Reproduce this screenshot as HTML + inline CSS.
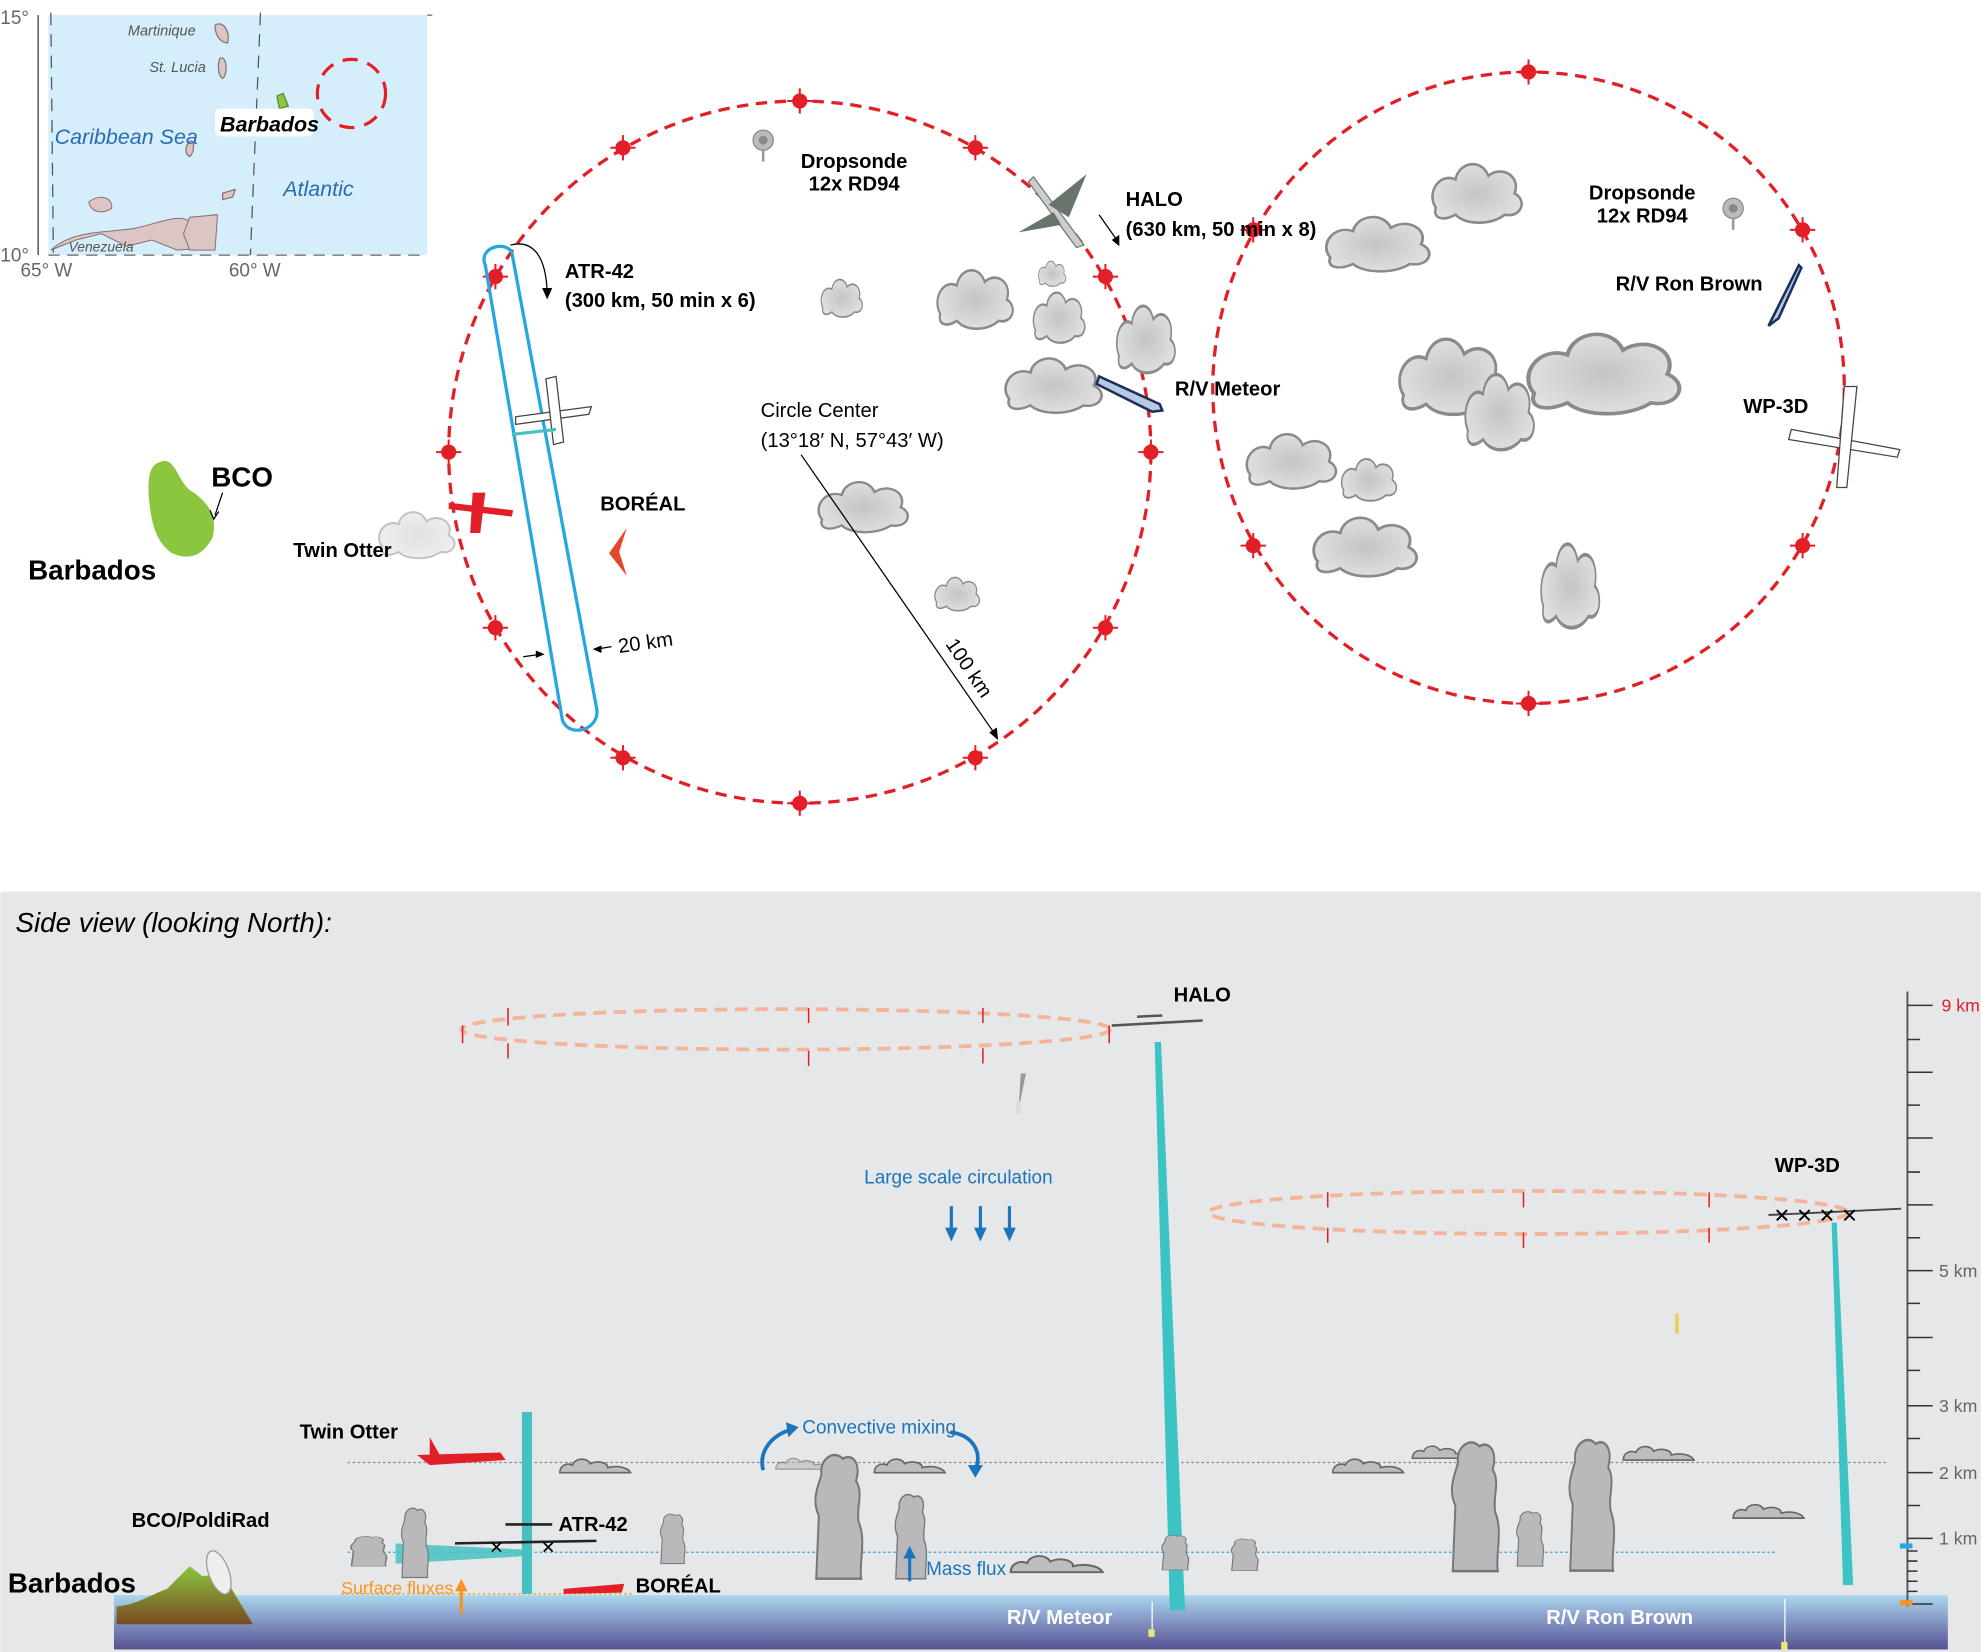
<!DOCTYPE html>
<html><head><meta charset="utf-8"><style>
html,body{margin:0;padding:0;background:#fff}
svg{display:block}
text{font-family:"Liberation Sans",sans-serif}
</style></head><body>
<svg width="1981" height="1652" viewBox="0 0 1568 1308" xmlns="http://www.w3.org/2000/svg">
<defs>
<radialGradient id="cg" cx="50%" cy="50%" r="60%"><stop offset="0" stop-color="#c4c4c6"/><stop offset="1" stop-color="#e4e4e6"/></radialGradient>
<linearGradient id="sea" x1="0" y1="0" x2="0" y2="1"><stop offset="0" stop-color="#a9d8ee"/><stop offset="0.35" stop-color="#8fa6d0"/><stop offset="1" stop-color="#555192"/></linearGradient>
<linearGradient id="isl" x1="0" y1="0" x2="0" y2="1"><stop offset="0" stop-color="#8cc63f"/><stop offset="1" stop-color="#7a4a22"/></linearGradient>
<g id="cl"><path d="M2,26 C-4,18 4,6 14,10 C16,0 30,-2 34,8 C42,2 54,8 50,18 C58,22 54,32 44,30 C36,36 20,36 14,30 C6,34 0,32 2,26 Z" fill="url(#cg)" stroke="#8a8a8a" stroke-width="1.5"/></g>
<g id="fc"><path d="M0,14 C0,8 6,6 10,8 C12,2 22,2 24,7 C30,4 38,6 38,10 C46,8 54,10 56,14 Z" fill="#bdbdbf" stroke="#666" stroke-width="1.3"/></g>
<g id="tw"><path d="M0,80 L2,40 C-4,30 2,20 4,14 C2,4 14,-2 20,4 C28,0 34,8 30,18 C36,26 30,34 32,44 C38,56 32,70 34,80 Z" fill="#b9b9bb" stroke="#777" stroke-width="1.5"/></g>
<g id="mk"><circle r="6" fill="#e21e26"/><path d="M-10,0H10M0,-10V10" stroke="#e21e26" stroke-width="1.6"/></g>
</defs>

<!-- inset map -->
<rect x="38" y="12" width="300" height="190" fill="#d5eefb"/>
<path d="M30,12V202" stroke="#555" stroke-width="1.2"/>
<path d="M38,202 H338" stroke="#666" stroke-dasharray="9,6"/>
<path d="M338,12 H342" stroke="#666"/>
<path d="M40,10 L42,200 M206,10 L198,202" stroke="#555" stroke-dasharray="10,7"/>
<path d="M40,198 C60,180 90,185 110,180 C130,175 140,170 150,175 L170,170 L168,196 L140,198 L120,190 L100,195 L80,185 L60,190Z" fill="#dbc5c5" stroke="#8a7070" stroke-width="0.8"/>
<path d="M145,185 L150,172 L172,170 L170,198 L150,198Z" fill="#dbc5c5" stroke="#8a7070" stroke-width="0.8"/>
<path d="M70,160 C80,152 90,158 88,165 C80,170 72,168 70,160Z" fill="#dbc5c5" stroke="#8a7070" stroke-width="0.8"/>
<path d="M170,20 C176,16 182,24 180,34 C176,34 170,30 170,20Z" fill="#dbc5c5" stroke="#8a7070"/>
<path d="M174,46 C180,44 180,60 176,62 C172,60 172,50 174,46Z" fill="#dbc5c5" stroke="#8a7070"/>
<path d="M150,112 C154,110 154,120 150,124 C146,122 146,116 150,112Z" fill="#dbc5c5" stroke="#8a7070"/>
<path d="M176,153 L186,150 L184,156 L176,158Z" fill="#dbc5c5" stroke="#8a7070"/>
<path d="M219,76 L224,74 L228,84 L221,86Z" fill="#8cc63f" stroke="#5a8a2a"/>
<circle cx="278" cy="74" r="27" fill="none" stroke="#e21e26" stroke-width="2.5" stroke-dasharray="12,8"/>
<text x="101" y="28" font-size="11.5" font-style="italic" fill="#555">Martinique</text>
<text x="118" y="57" font-size="11.5" font-style="italic" fill="#555">St. Lucia</text>
<rect x="170" y="86" width="78" height="22" rx="4" fill="#fff"/>
<text x="174" y="104" font-size="17" font-weight="bold" font-style="italic" fill="#000">Barbados</text>
<text x="43" y="114" font-size="17" font-style="italic" fill="#2a6cb0">Caribbean Sea</text>
<text x="224" y="155" font-size="17" font-style="italic" fill="#2a6cb0">Atlantic</text>
<text x="54" y="199" font-size="11" font-style="italic" fill="#555">Venezuela</text>
<text x="0" y="19" font-size="15" fill="#666">15°</text>
<text x="0" y="207" font-size="15" fill="#666">10°</text>
<text x="16" y="219" font-size="15" fill="#666">65° W</text>
<text x="181" y="219" font-size="15" fill="#666">60° W</text>

<!-- Barbados big -->
<path d="M126,366 C138,360 140,380 150,388 C166,398 172,410 168,426 C160,440 150,444 136,438 C124,430 120,416 118,398 C116,380 118,368 126,366Z" fill="#8cc63f"/>
<text x="167" y="385" font-size="22" font-weight="bold">BCO</text>
<path d="M176,390 L170,408" stroke="#000"/><path d="M166,404 L169,411 L173,405" fill="none" stroke="#000"/>
<text x="22" y="459" font-size="22" font-weight="bold">Barbados</text>

<!-- circles -->
<circle cx="633" cy="358" r="278" fill="none" stroke="#e21e26" stroke-width="2.6" stroke-dasharray="9,6"/>
<circle cx="1210" cy="307" r="250" fill="none" stroke="#e21e26" stroke-width="2.6" stroke-dasharray="9,6"/>
<use href="#mk" x="633" y="80"/><use href="#mk" x="772" y="117"/><use href="#mk" x="875" y="219"/><use href="#mk" x="911" y="358"/><use href="#mk" x="875" y="497"/><use href="#mk" x="772" y="600"/><use href="#mk" x="633" y="636"/><use href="#mk" x="493" y="600"/><use href="#mk" x="392" y="497"/><use href="#mk" x="355" y="358"/><use href="#mk" x="392" y="219"/><use href="#mk" x="493" y="117"/>
<use href="#mk" x="1210" y="57"/><use href="#mk" x="1427" y="182"/><use href="#mk" x="992" y="182"/><use href="#mk" x="1427" y="432"/><use href="#mk" x="992" y="432"/><use href="#mk" x="1210" y="557"/>

<!-- ATR track -->
<path d="M384,210 C378,196 400,190 405,200 L472,560 C476,578 450,585 445,570 Z" fill="none" stroke="#27a6e0" stroke-width="2.6"/>
<path d="M404,194 C420,190 432,200 433,232" fill="none" stroke="#000"/><path d="M429,228 L433,237 L437,228" fill="#000"/>
<path d="M414,520 L428,518" stroke="#000"/><path d="M424,515 L431,518 L424,521Z" fill="#000"/>
<path d="M484,512 L472,514" stroke="#000"/><path d="M476,511 L469,514 L476,517Z" fill="#000"/>
<text x="490" y="517" font-size="16" transform="rotate(-8 490 517)">20 km</text>
<path d="M408,330 L468,322 L466,328 L408,336Z" fill="#fff" stroke="#444"/>
<path d="M432,300 L440,298 L446,350 L438,352Z" fill="#fff" stroke="#444"/>
<path d="M405,344 L440,340" stroke="#45c1c1" stroke-width="2.5"/>
<text x="447" y="220" font-size="16" font-weight="bold">ATR-42</text>
<text x="447" y="243" font-size="16" font-weight="bold">(300 km, 50 min x 6)</text>
<!-- Twin otter -->
<use href="#cl" transform="translate(300,404) scale(1.1)" opacity="0.5"/>
<path d="M355,398 L406,404 L405,409 L355,403Z" fill="#e21e26"/><path d="M374,390 L384,390 L380,422 L372,422Z" fill="#e21e26"/>
<text x="232" y="441" font-size="16" font-weight="bold">Twin Otter</text>
<path d="M496,418 L482,438 L496,456 L490,437Z" fill="#e8462a"/>
<text x="475" y="404" font-size="16" font-weight="bold">BORÉAL</text>
<!-- dropsonde -->
<circle cx="604" cy="111" r="8" fill="#bbb" stroke="#888"/><circle cx="604" cy="111" r="3.5" fill="#888"/><path d="M604,119 V128" stroke="#999" stroke-width="2"/>
<text x="676" y="133" font-size="16" font-weight="bold" text-anchor="middle">Dropsonde</text>
<text x="676" y="151" font-size="16" font-weight="bold" text-anchor="middle">12x RD94</text>
<circle cx="1372" cy="165" r="8" fill="#bbb" stroke="#888"/><circle cx="1372" cy="165" r="3.5" fill="#888"/><path d="M1372,173 V182" stroke="#999" stroke-width="2"/>
<text x="1300" y="158" font-size="16" font-weight="bold" text-anchor="middle">Dropsonde</text>
<text x="1300" y="176" font-size="16" font-weight="bold" text-anchor="middle">12x RD94</text>
<!-- HALO plane -->
<path d="M818,140 L858,194 L852,196 L814,144Z" fill="#c9d0c9" stroke="#777"/>
<path d="M830,162 L860,138 L846,172Z M834,168 L806,184 L840,178Z" fill="#68756c"/>
<text x="891" y="163" font-size="16" font-weight="bold">HALO</text>
<text x="891" y="187" font-size="16" font-weight="bold">(630 km, 50 min x 8)</text>
<path d="M870,170 L884,190" stroke="#000"/><path d="M880,190 L886,195 L886,186Z" fill="#000"/>
<!-- clouds top -->
<use href="#cl" transform="translate(650,220) scale(0.6,0.9)"/>
<use href="#cl" transform="translate(742,212) scale(1.1,1.4)"/>
<use href="#cl" transform="translate(818,230) scale(0.75,1.2)"/>
<use href="#cl" transform="translate(822,206) scale(0.4,0.6)"/>
<use href="#cl" transform="translate(884,240) scale(0.85,1.6)"/>
<use href="#cl" transform="translate(796,282) scale(1.4,1.3)"/>
<use href="#cl" transform="translate(648,380) scale(1.3,1.2)"/>
<use href="#cl" transform="translate(740,456) scale(0.65,0.8)"/>
<use href="#cl" transform="translate(1134,128) scale(1.3,1.4)"/>
<use href="#cl" transform="translate(1050,170) scale(1.5,1.3)"/>
<use href="#cl" transform="translate(1108,266) scale(1.5,1.8)"/>
<use href="#cl" transform="translate(1160,294) scale(1.0,1.8)"/>
<use href="#cl" transform="translate(1210,262) scale(2.2,1.9)"/>
<use href="#cl" transform="translate(987,342) scale(1.3,1.3)"/>
<use href="#cl" transform="translate(1062,362) scale(0.8,1.0)"/>
<use href="#cl" transform="translate(1040,408) scale(1.5,1.4)"/>
<use href="#cl" transform="translate(1220,428) scale(0.85,2.0)"/>
<!-- ships -->
<path d="M870,298 L918,320 L920,325 L912,326 L868,304Z" fill="#b8c8e0" stroke="#1a2f5c" stroke-width="2"/>
<path d="M1400,258 L1424,210 L1426,212 L1408,252Z" fill="#b8c8e0" stroke="#1a2f5c" stroke-width="2"/>
<text x="930" y="313" font-size="16" font-weight="bold">R/V Meteor</text>
<text x="1279" y="230" font-size="16" font-weight="bold">R/V Ron Brown</text>
<text x="1380" y="327" font-size="16" font-weight="bold">WP-3D</text>
<path d="M1418,340 L1504,356 L1502,362 L1416,348Z" fill="#fff" stroke="#444"/>
<path d="M1460,306 L1470,306 L1462,386 L1454,386Z" fill="#fff" stroke="#444"/>
<!-- center -->
<text x="602" y="330" font-size="16">Circle Center</text>
<text x="602" y="354" font-size="16">(13°18′ N, 57°43′ W)</text>
<path d="M634,360 L788,582" stroke="#000"/><path d="M783,580 L790,586 L789,576Z" fill="#000"/>
<text x="748" y="510" font-size="16" transform="rotate(56 748 510)">100 km</text>

<!-- side view -->
<rect x="0" y="706" width="1568" height="602" fill="#e6e7e8"/>
<text x="12" y="738" font-size="22" font-style="italic">Side view (looking North):</text>
<rect x="90" y="1263" width="1452" height="43" fill="url(#sea)"/>
<path d="M92,1286 L92,1272 C110,1270 120,1262 132,1258 L150,1240 L160,1248 L176,1246 L200,1286Z" fill="url(#isl)"/>
<ellipse cx="173" cy="1245" rx="8" ry="18" fill="#eee" stroke="#999" transform="rotate(-20 173 1245)"/>
<text x="6" y="1261" font-size="22" font-weight="bold">Barbados</text>
<text x="104" y="1209" font-size="16" font-weight="bold">BCO/PoldiRad</text>
<!-- scale -->
<path d="M1510,785 V1272" stroke="#555" stroke-width="1.5"/>
<path d="M1510,796H1530M1510,823H1520M1510,849H1530M1510,875H1520M1510,901H1530M1510,928H1520M1510,954H1530M1510,980H1520M1510,1006H1530M1510,1032H1520M1510,1059H1530M1510,1085H1520M1510,1113H1530M1510,1139H1520M1510,1166H1530M1510,1192H1520M1510,1218H1530M1510,1228H1518M1510,1236H1518M1510,1244H1518M1510,1252H1518M1510,1260H1518M1510,1270H1530" stroke="#333" stroke-width="1.2"/>
<text x="1537" y="801" font-size="14" fill="#e21e26">9 km</text>
<text x="1535" y="1011" font-size="14" fill="#666">5 km</text>
<text x="1535" y="1118" font-size="14" fill="#666">3 km</text>
<text x="1535" y="1171" font-size="14" fill="#666">2 km</text>
<text x="1535" y="1223" font-size="14" fill="#666">1 km</text>
<rect x="1504" y="1222" width="10" height="4" fill="#27a6e0"/><rect x="1504" y="1267" width="10" height="4" fill="#f7941d"/>
<!-- layer lines -->
<path d="M275,1158 H1495" stroke="#888" stroke-dasharray="2,2"/>
<path d="M275,1229 H1405" stroke="#27a6e0" stroke-dasharray="2,2"/>
<path d="M270,1262 H500" stroke="#f7941d" stroke-dasharray="2,2"/>
<!-- circuits -->
<ellipse cx="622" cy="815" rx="257" ry="16" fill="none" stroke="#f4b49a" stroke-width="3" stroke-dasharray="10,6"/>
<ellipse cx="1210" cy="960" rx="253" ry="17" fill="none" stroke="#f4b49a" stroke-width="3" stroke-dasharray="10,6"/>
<g stroke="#e21e26" stroke-width="1.2" fill="#e21e26">
<path d="M366,812V826M402,798V812M402,826V838M640,798V810M640,832V844M778,798V810M778,830V842M878,812V826M1051,944V956M1051,972V984M1206,944V956M1206,976V988M1353,944V956M1353,972V984"/>
</g>
<text x="929" y="793" font-size="16" font-weight="bold">HALO</text>
<path d="M880,812 L952,808 M900,805 L920,804" stroke="#555" stroke-width="2"/>
<polygon points="914,825 919,825 938,1275 926,1275" fill="#3cc3c3"/>
<text x="1405" y="928" font-size="16" font-weight="bold">WP-3D</text>
<path d="M1400,962 L1505,957" stroke="#444" stroke-width="1.5"/>
<text x="1404" y="968" font-size="16">✕ ✕ ✕ ✕</text>
<polygon points="1450,968 1454,968 1467,1255 1459,1255" fill="#3cc3c3"/>
<path d="M808,850 L812,850 L806,880Z" fill="#999"/><rect x="804" y="872" width="4" height="10" fill="#ddd"/>
<rect x="1326" y="1040" width="3" height="16" fill="#e8d060"/>
<!-- ATR -->
<rect x="413" y="1118" width="8" height="144" fill="#45c1c1"/>
<polygon points="313,1222 418,1227 418,1232 313,1238" fill="#45c1c1" opacity="0.85"/>
<path d="M400,1207 H437 M360,1222 L472,1220" stroke="#222" stroke-width="2"/>
<text x="442" y="1212" font-size="16" font-weight="bold">ATR-42</text>
<text x="387" y="1230" font-size="14">✕</text><text x="428" y="1230" font-size="14">✕</text>
<!-- twin otter side -->
<path d="M330,1152 L396,1150 L400,1156 L340,1160Z" fill="#e21e26"/><path d="M340,1138 L348,1152 L340,1152Z" fill="#e21e26"/>
<text x="237" y="1139" font-size="16" font-weight="bold">Twin Otter</text>
<path d="M446,1258 L494,1254 L492,1261 L446,1262Z" fill="#e21e26"/>
<text x="503" y="1261" font-size="16" font-weight="bold">BORÉAL</text>
<text x="270" y="1262" font-size="14" fill="#f7941d">Surface fluxes</text>
<path d="M365,1278 V1258" stroke="#f7941d" stroke-width="2.5"/><path d="M360,1260 L365,1250 L370,1260Z" fill="#f7941d"/>
<!-- side clouds -->
<use href="#fc" transform="translate(443,1152)"/>
<use href="#fc" transform="translate(692,1152)"/>
<use href="#fc" transform="translate(614,1152) scale(0.8)" opacity="0.6"/>
<use href="#fc" transform="translate(1055,1152)"/>
<use href="#fc" transform="translate(1118,1142) scale(0.9)"/>
<use href="#fc" transform="translate(1285,1142)"/>
<use href="#fc" transform="translate(1372,1188)"/>
<use href="#fc" transform="translate(800,1228) scale(1.3,1.2)"/>
<use href="#tw" transform="translate(318,1193) scale(0.6,0.7)"/>
<use href="#tw" transform="translate(278,1216) scale(0.8,0.3)"/>
<use href="#tw" transform="translate(523,1198) scale(0.55,0.5)"/>
<use href="#tw" transform="translate(646,1150) scale(1.05,1.25)"/>
<use href="#tw" transform="translate(709,1182) scale(0.7,0.85)"/>
<use href="#tw" transform="translate(920,1215) scale(0.6,0.35)"/>
<use href="#tw" transform="translate(975,1218) scale(0.6,0.32)"/>
<use href="#tw" transform="translate(1150,1140) scale(1.05,1.3)"/>
<use href="#tw" transform="translate(1201,1196) scale(0.6,0.55)"/>
<use href="#tw" transform="translate(1243,1138) scale(1.0,1.32)"/>
<!-- circulation -->
<text x="684" y="937" font-size="15" fill="#1b75bc">Large scale circulation</text>
<g fill="#1b75bc" stroke="#1b75bc" stroke-width="2.5"><path d="M753,955V975M776,955V975M799,955V975"/><path d="M748,972L753,983L758,972Z M771,972L776,983L781,972Z M794,972L799,983L804,972Z" stroke="none"/></g>
<text x="635" y="1135" font-size="15" fill="#1b75bc">Convective mixing</text>
<path d="M604,1164 C600,1148 612,1136 626,1132" fill="none" stroke="#1b75bc" stroke-width="3"/><path d="M622,1126 L632,1130 L624,1138Z" fill="#1b75bc"/>
<path d="M752,1134 C770,1136 778,1150 772,1164" fill="none" stroke="#1b75bc" stroke-width="3"/><path d="M766,1160 L772,1170 L778,1160Z" fill="#1b75bc"/>
<path d="M720,1252 V1232" stroke="#1b75bc" stroke-width="2.5"/><path d="M715,1234 L720,1224 L725,1234Z" fill="#1b75bc"/>
<text x="733" y="1247" font-size="15" fill="#1b75bc">Mass flux</text>
<!-- ships side -->
<text x="797" y="1286" font-size="16" font-weight="bold" fill="#fff">R/V Meteor</text>
<path d="M912,1268 V1290" stroke="#fff"/><rect x="909" y="1290" width="5" height="6" fill="#e8e870"/>
<text x="1224" y="1286" font-size="16" font-weight="bold" fill="#fff">R/V Ron Brown</text>
<path d="M1413,1266 V1300" stroke="#fff"/><rect x="1410" y="1300" width="5" height="6" fill="#e8e870"/>
</svg>
</body></html>
